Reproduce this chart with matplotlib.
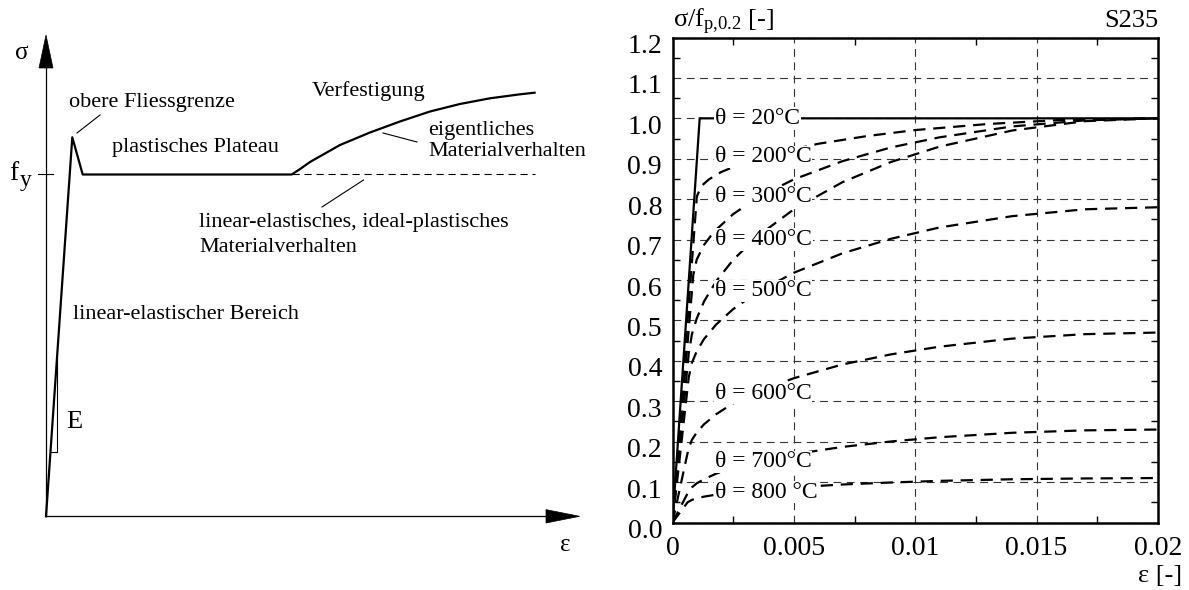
import matplotlib
matplotlib.use('Agg')
import matplotlib.pyplot as plt
from matplotlib.ticker import MultipleLocator
from matplotlib.transforms import ScaledTranslation
from matplotlib.patches import Polygon

plt.rcParams['font.family'] = ['Liberation Serif', 'DejaVu Serif']
plt.rcParams['mathtext.fontset'] = 'custom'
plt.rcParams['mathtext.rm'] = 'Liberation Serif'
plt.rcParams['mathtext.it'] = 'Liberation Serif:italic'

# ---------------- right chart data (sigma / f_p,0.2 vs strain) ----------------
temps = ['20', '200', '300', '400', '500', '600', '700', '800']
label_texts = ['θ = 20°C', 'θ = 200°C', 'θ = 300°C', 'θ = 400°C',
               'θ = 500°C', 'θ = 600°C', 'θ = 700°C', 'θ = 800 °C']
label_y = [1.0, 0.905, 0.806, 0.70, 0.573, 0.32, 0.15, 0.075]
label_x = 0.00175

eps_20 = [0.0, 0.00112, 0.02]
sig_20 = [0.0, 1.0, 1.0]

eps_200 = [0.0, 0.001003, 0.0012, 0.0015, 0.002, 0.003, 0.004, 0.006, 0.008, 0.010, 0.013, 0.016, 0.02]
sig_200 = [0.0, 0.807, 0.833, 0.849, 0.867, 0.892, 0.910, 0.937, 0.956, 0.971, 0.986, 0.996, 1.0]

eps_300 = [0.0, 0.000858, 0.001, 0.0013, 0.0017, 0.0025, 0.0035, 0.005, 0.007, 0.009, 0.011, 0.014, 0.017, 0.02]
sig_300 = [0.0, 0.613, 0.651, 0.687, 0.719, 0.763, 0.804, 0.849, 0.894, 0.928, 0.953, 0.980, 0.995, 1.0]

eps_400 = [0.0, 0.000672, 0.0008, 0.001, 0.0013, 0.0018, 0.0025, 0.0035, 0.005, 0.007, 0.009, 0.011, 0.014, 0.017, 0.02]
sig_400 = [0.0, 0.420, 0.466, 0.505, 0.547, 0.597, 0.650, 0.708, 0.775, 0.842, 0.892, 0.930, 0.970, 0.993, 1.0]

eps_500 = [0.0, 0.000671, 0.0008, 0.001, 0.0013, 0.0018, 0.0025, 0.0035, 0.005, 0.007, 0.009, 0.011, 0.014, 0.017, 0.02]
sig_500 = [0.0, 0.360, 0.395, 0.424, 0.454, 0.490, 0.528, 0.570, 0.618, 0.666, 0.702, 0.730, 0.758, 0.775, 0.78]

eps_600 = [0.0, 0.00065, 0.0008, 0.001, 0.0013, 0.0018, 0.0025, 0.0035, 0.005, 0.007, 0.009, 0.011, 0.014, 0.017, 0.02]
sig_600 = [0.0, 0.180, 0.2045, 0.223, 0.243, 0.268, 0.295, 0.324, 0.357, 0.391, 0.416, 0.435, 0.455, 0.466, 0.47]

eps_700 = [0.0, 0.000646, 0.0008, 0.001, 0.0013, 0.0018, 0.0025, 0.0035, 0.005, 0.007, 0.009, 0.011, 0.014, 0.017, 0.02]
sig_700 = [0.0, 0.075, 0.087, 0.097, 0.107, 0.121, 0.135, 0.151, 0.169, 0.187, 0.2005, 0.211, 0.222, 0.228, 0.23]

eps_800 = [0.0, 0.000622, 0.0008, 0.001, 0.0013, 0.0018, 0.0025, 0.0035, 0.005, 0.007, 0.009, 0.011, 0.014, 0.017, 0.02]
sig_800 = [0.0, 0.050, 0.056, 0.060, 0.064, 0.069, 0.074, 0.080, 0.087, 0.094, 0.099, 0.103, 0.107, 0.109, 0.11]

x_ticks = [0.0, 0.005, 0.01, 0.015, 0.02]
x_ticklabels = ['0', '0.005', '0.01', '0.015', '0.02']
y_ticks = [0.0, 0.1, 0.2, 0.3, 0.4, 0.5, 0.6, 0.7, 0.8, 0.9, 1.0, 1.1, 1.2]
y_ticklabels = ['0.0', '0.1', '0.2', '0.3', '0.4', '0.5', '0.6', '0.7', '0.8', '0.9', '1.0', '1.1', '1.2']

# ---------------- left schematic data (strain in arbitrary units, sigma / f_y) ----------------
sch_eps = [0.0, 0.263, 0.367, 2.457, 2.54, 2.64, 2.94, 3.24, 3.54, 3.84, 4.14, 4.44, 4.74, 4.886]
sch_sig = [0.0, 1.1088, 1.0, 1.0, 1.0158, 1.0366, 1.0863, 1.1229, 1.1551, 1.1843, 1.2063, 1.2229, 1.2346, 1.2393]
ideal_eps = [2.457, 4.886]
ideal_sig = [1.0, 1.0]

W, H = 1189, 590
fig = plt.figure(figsize=(W / 100, H / 100), dpi=100)

# ======================= LEFT PANEL =======================
axL = fig.add_axes([0, 0, 594.5 / W, 1])
axL.set_xlim(-0.46, 5.485)
axL.set_ylim(-0.2156, 1.5105)
axL.axis('off')


def P(px, py):
    return ((px - 46) / 100.0, (516.3 - py) / 341.8)


# axes with arrows
axL.plot([0, 0], [0, 1.3116], color='black', lw=0.9)
axL.plot([0, 5.0], [0, 0], color='black', lw=0.9)
axL.add_patch(Polygon([(-0.07, 1.3116), (0.07, 1.3116), (0.0, 1.408)], closed=True,
                      facecolor='black', edgecolor='black', lw=0.5))
axL.add_patch(Polygon([(5.0, -0.0196), (5.0, 0.0196), (5.336, 0.0)], closed=True,
                      facecolor='black', edgecolor='black', lw=0.5))

# curve
axL.plot(sch_eps, sch_sig, color='black', lw=1.6, solid_joinstyle='round')
axL.plot(ideal_eps, ideal_sig, color='black', lw=0.8, linestyle=(0, (6.5, 4.3)))
# fy tick
axL.plot([-0.08, 0.07], [1.0, 1.0], color='black', lw=0.8)
# E slope triangle
axL.plot([0.045, 0.11, 0.11], [0.189, 0.189, 0.4638], color='black', lw=0.8)

# leader lines
for (a, b) in [((100, 115), (77, 133)), ((383, 133), (417, 142)), ((322, 207), (363.5, 180))]:
    p1, p2 = P(*a), P(*b)
    axL.plot([p1[0], p2[0]], [p1[1], p2[1]], color='black', lw=0.8)

fsL = 16
def tL(px, py, s, fs=fsL, ha='left', va='center'):
    x, y = P(px, py)
    axL.text(x, y, s, fontsize=fs, ha=ha, va=va)

tL(22, 53, 'σ', fs=18, ha='center')
tL(9, 180, 'f', fs=20, va='baseline')
tL(20, 186, 'y', fs=17, va='baseline')
tL(69, 103, 'obere Fliessgrenze')
tL(111.5, 148, 'plastisches Plateau')
tL(312, 91, 'Verfestigung')
tL(428, 131, 'eigentliches')
tL(428, 152, 'Materialverhalten')
tL(199, 222.7, 'linear-elastisches, ideal-plastisches')
tL(199, 248, 'Materialverhalten')
tL(73, 315, 'linear-elastischer Bereich')
tL(66, 421.7, 'E', fs=19)
tL(565, 545, 'ε', fs=18, ha='center')

# ======================= RIGHT PANEL =======================
left, right, top, bottom = 672.5, 1158.0, 37.5, 522.5
ax = fig.add_axes([left / W, (H - bottom) / H, (right - left) / W, (bottom - top) / H])
ax.set_xlim(0, 0.02)
ax.set_ylim(0, 1.2)

ax.set_xticks(x_ticks)
ax.set_xticklabels(x_ticklabels)
ax.set_yticks(y_ticks)
ax.set_yticklabels(y_ticklabels)
ax.xaxis.set_minor_locator(MultipleLocator(0.0025))
ax.yaxis.set_minor_locator(MultipleLocator(0.05))
ax.tick_params(which='major', length=0, labelsize=20)
ax.tick_params(axis='x', which='major', pad=9.5)
ax.tick_params(axis='y', which='major', pad=7.5)
ax.tick_params(which='minor', direction='in', length=5, width=1.0,
               top=True, right=True, bottom=True, left=True)
for sp in ax.spines.values():
    sp.set_linewidth(1.8)

ax.grid(True, which='major', color='#333333', lw=0.8, linestyle=(0, (7, 5)))
ax.set_axisbelow(True)

off = ScaledTranslation(0, -6 / 100, fig.dpi_scale_trans)
for lab in ax.get_yticklabels():
    lab.set_transform(lab.get_transform() + off)

dash = (0, (5.5, 3.5))
ax.plot(eps_20, sig_20, color='black', lw=1.6, solid_joinstyle='miter', zorder=3)
for e, s in [(eps_200, sig_200), (eps_300, sig_300), (eps_400, sig_400), (eps_500, sig_500),
             (eps_600, sig_600), (eps_700, sig_700), (eps_800, sig_800)]:
    ax.plot(e, s, color='black', lw=1.6, linestyle=dash, zorder=3)

for txt, yv in zip(label_texts, label_y):
    ax.text(label_x, yv, txt, fontsize=17, ha='left', va='center', zorder=4,
            bbox=dict(facecolor='white', edgecolor='none', pad=0.5))

ax.text(0.002, 1.0216, r'$\mathregular{σ/f_{p{,}0.2}}$ [-]', transform=ax.transAxes,
        fontsize=19, ha='left', va='baseline')
ax.text(1.0, 1.0216, 'S235', transform=ax.transAxes, fontsize=19, ha='right', va='baseline')
ax.text(1.049, -0.122, 'ε [-]', transform=ax.transAxes, fontsize=19, ha='right', va='baseline')

fig.savefig('out.png', dpi=100)
